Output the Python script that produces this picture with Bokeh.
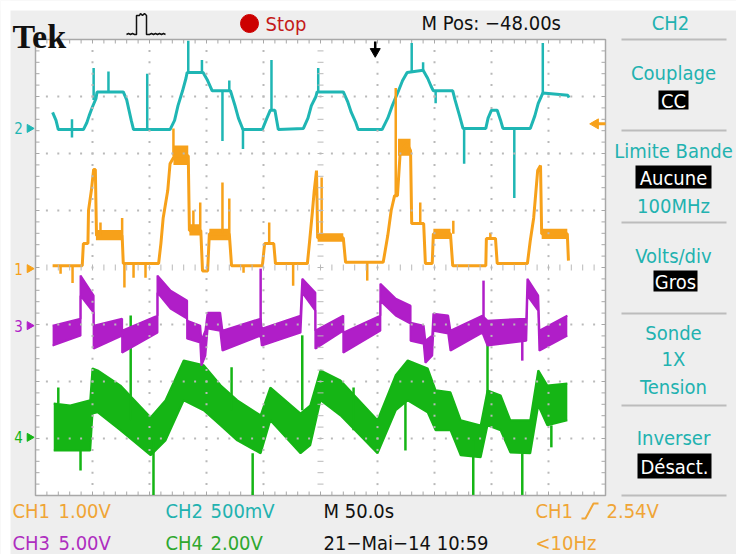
import numpy as np
from bokeh.plotting import figure
from bokeh.models import Range1d
from bokeh.core.properties import value
from bokeh.embed import file_html
from bokeh.resources import INLINE

# ---------------- scope settings ----------------
sec_per_div = 50.0
ch1_volts_per_div = 1.0
ch2_volts_per_div = 0.5
ch3_volts_per_div = 5.0
ch4_volts_per_div = 2.0
ch1_offset_div = -0.02
ch2_offset_div = 2.44
ch3_offset_div = -1.02
ch4_offset_div = -2.98
trigger_time_s = 298.0
trigger_level_v = 2.54

# ---------------- CH2 (cyan), volts vs seconds ----------------
ch2_t = [15, 18, 20, 42, 45, 47, 50, 53, 54, 77, 80, 82, 84, 86, 118, 122, 125, 129, 132, 133,
         147, 151, 155, 171, 175, 178, 182, 199, 203, 206, 210, 213, 235, 239, 242, 246, 247, 270, 274, 277,
         281, 283, 304, 309, 313, 318, 322, 326, 340, 344, 347, 349, 366, 368, 372, 375, 395, 397, 400, 405,
         408, 410, 434, 438, 441, 445, 467, 468]
ch2_v = [0.14, 0.07, -0.01, -0.01, 0.05, 0.11, 0.19, 0.26, 0.32, 0.32, 0.25, 0.16, 0.07, -0.01, -0.01, 0.07, 0.20, 0.33, 0.44, 0.49,
         0.49, 0.42, 0.33, 0.33, 0.20, 0.09, -0.01, -0.01, 0.09, 0.16, 0.16, -0.01, 0.0, 0.09, 0.20, 0.28, 0.32, 0.32, 0.23, 0.14,
         0.05, -0.01, -0.01, 0.09, 0.20, 0.32, 0.42, 0.49, 0.51, 0.44, 0.37, 0.33, 0.33, 0.25, 0.11, 0.0, 0.0, 0.09, 0.16, 0.16,
         0.07, 0.0, 0.0, 0.11, 0.22, 0.31, 0.29, 0.27]
ch2_spike_t = [32, 51, 64, 98, 134, 146, 164, 170, 182, 207, 248, 330, 340, 351, 376, 420, 445]
ch2_spike_lo = [-0.08, 0.25, 0.32, -0.01, 0.49, 0.49, -0.11, 0.33, -0.18, 0.16, 0.32, 0.49, 0.51, 0.22, -0.31, -0.61, 0.31]
ch2_spike_hi = [0.08, 0.53, 0.50, 0.48, 0.77, 0.60, 0.33, 0.42, 0.0, 0.60, 0.53, 0.75, 0.58, 0.33, 0.0, 0.0, 0.75]

# ---------------- CH1 (orange) ----------------
ch1_t = [15, 41, 42, 46, 46.5, 49, 51, 52.5, 53.5, 76, 77, 108, 110, 112, 116, 118, 122, 134, 135, 145,
         146.5, 151, 152.5, 170, 172, 199, 201, 209, 210.5, 238.5, 240.5, 243, 244.5, 246.5, 247.5, 270, 272, 305, 309, 312,
         315, 317.5, 320, 326, 329, 330, 340.5, 342, 348, 349, 364, 366, 395, 395.5, 403.5, 405, 431.5, 434, 437, 440.5,
         443, 444, 466.5, 467.5]
ch1_v = [0.05, 0.05, 0.44, 0.44, 1.02, 1.37, 1.74, 1.74, 0.58, 0.58, 0.09, 0.09, 0.44, 0.89, 1.37, 1.84, 1.98, 1.98, 0.67, 0.67,
         -0.04, -0.04, 0.61, 0.61, 0.05, 0.05, 0.44, 0.44, 0.09, 0.09, 0.49, 1.02, 1.37, 1.72, 0.54, 0.54, 0.11, 0.11, 0.58, 1.02,
         1.28, 1.28, 2.07, 2.19, 2.07, 0.79, 0.79, 0.09, 0.09, 0.61, 0.61, 0.05, 0.05, 0.53, 0.53, 0.09, 0.09, 0.49, 0.89, 1.72,
         1.81, 0.61, 0.61, 0.14]
ch1_spike_t = [22, 32.5, 57, 76, 78, 86, 96.5, 121, 138.5, 144.5, 164, 170, 182.5, 205, 226, 251, 291, 316, 337.5, 366.5, 399]
ch1_spike_lo = [-0.09, -0.25, 0.58, 0.58, -0.33, -0.16, -0.16, 1.98, 0.67, 0.67, 0.61, 0.61, -0.07, 0.44, -0.30, 0.54, -0.21, 1.28, 0.79, 0.61, 0.53]
ch1_spike_hi = [0.05, 0.05, 0.81, 0.89, 0.09, 0.09, 0.09, 2.46, 1.02, 1.16, 1.51, 1.23, 0.05, 0.81, 0.09, 1.60, 0.11, 3.17, 1.16, 0.84, 0.63]
# noisy plateaus of CH1 (start, end, low, high)
ch1_noise_t0 = [53, 121, 135, 152.5, 247.5, 318, 349, 444]
ch1_noise_t1 = [76, 134, 145, 170, 270, 329, 364, 466.5]
ch1_noise_lo = [0.50, 1.82, 0.58, 0.50, 0.47, 1.98, 0.52, 0.52]
ch1_noise_hi = [0.68, 2.16, 0.78, 0.70, 0.62, 2.28, 0.70, 0.70]

# ---------------- CH3 (magenta) noisy band ----------------
ch3_t = [15, 39.5, 39.5, 51, 51, 76, 76, 107, 107, 118.5, 133, 133, 144.5, 145.5, 149, 151, 162, 164, 197.5, 198.5,
         232.5, 234, 245.5, 245.5, 270, 270, 302.5, 302.5, 316, 329, 329, 340.5, 342, 348, 349, 362, 364, 392, 396.5, 430.5,
         431.5, 441, 442, 466.5]
ch3_hi = [0, 0.61, 4.39, 2.63, 0, 0.61, -0.44, 0.88, 4.39, 3.07, 2.19, 0.44, 0, -1.32, -0.44, 1.14, 1.14, -0.44, 0.61, -0.26,
          0.88, 4.12, 2.89, -0.44, 0.88, -0.61, 0.88, 3.68, 2.37, 1.75, 0.26, 0, -1.32, -0.88, 1.05, 0.88, -0.44, 0.88, 0.44, 0.61,
          4.12, 2.63, -0.44, 0.88]
ch3_lo = [-1.75, -0.88, 2.63, 1.14, -2.02, -0.88, -2.37, -0.61, 2.89, 1.49, 0.61, -1.14, -1.49, -3.51, -2.63, -0.26, -0.44, -2.19, -0.88, -1.75,
          -0.61, 2.89, 1.32, -2.02, -0.44, -2.37, -0.44, 2.19, 0.88, 0.18, -1.32, -1.58, -3.25, -2.63, -0.44, -0.70, -2.19, -0.61, -1.75, -1.32,
          2.63, 1.32, -2.19, -0.88]
ch3_spike_t = [197.5, 393, 427]
ch3_spike_lo = [-1.05, 0.44, -3.07]
ch3_spike_hi = [5.0, 3.95, -1.32]

# ---------------- CH4 (green) noisy band ----------------
ch4_t = [16, 30.5, 48, 50, 54.5, 74.5, 101, 114, 130, 147.5, 162.5, 177, 197.5, 206, 232.5, 241, 250, 267.5, 300, 316,
         326.5, 344, 351, 364, 373, 390.5, 396.5, 408, 416.5, 434, 441, 449, 466.5]
ch4_hi = [1.19, 1.12, 1.30, 2.42, 2.35, 1.82, 0.70, 1.30, 2.70, 2.53, 1.82, 1.30, 0.77, 1.75, 0.84, 1.12, 2.35, 2.00, 0.60, 2.18,
          2.70, 2.42, 1.65, 1.58, 0.60, 0.42, 1.65, 1.47, 0.60, 0.60, 2.35, 1.82, 1.89]
ch4_lo = [-0.46, -0.46, -0.46, 0.84, 0.88, 0.25, -0.63, -0.11, 1.30, 0.95, 0.42, -0.11, -0.56, 0.60, -0.56, -0.28, 1.30, 0.77, -0.56, 0.95,
          1.30, 0.88, 0.25, 0.25, -0.63, -0.70, 0.42, 0.25, -0.53, -0.56, 1.12, 0.42, 0.60]
ch4_spike_t = [20, 39.5, 83.5, 103.5, 172, 190.5, 234, 279, 324.5, 384, 396.5, 427, 452.5]
ch4_spike_lo = [1.19, -1.16, 0.60, -2.02, 0.95, -2.02, 0.95, 0.25, -0.46, -2.02, 1.30, -2.02, -0.35]
ch4_spike_hi = [1.75, -0.46, 4.28, -0.11, 2.46, -0.56, 3.58, 1.75, 1.30, -0.11, 3.75, -0.56, 0.42]

# ---------------- texts ----------------
top_status = ["Tek", "Stop", "M Pos: \u221248.00s", "CH2"]
menu_items = ["Couplage", "Limite Bande", "100MHz", "Volts/div", "Sonde", "1X", "Tension", "Inverser"]
menu_boxed = ["CC", "Aucune", "Gros", "D\u00e9sact."]
bottom_row1 = ["CH1", "1.00V", "CH2", "500mV", "M 50.0s", "CH1", "2.54V"]
bottom_row2 = ["CH3", "5.00V", "CH4", "2.00V", "21\u2212Mai\u221214 10:59", "<10Hz"]

# ---------------- colours ----------------
C1, C2, C3, C4 = "#f7a11a", "#1fb6b4", "#b01ec8", "#15b515"
T1, T2, T3, T4 = "#f0a536", "#22b2b0", "#ae2ec0", "#2fa82f"
GRAY = "#eeeeee"
UI = "'DejaVu Sans Condensed', 'Liberation Sans Narrow', sans-serif"

# ---------------- layout (canvas pixels = reference pixels) ----------------
W, H = 736, 554
PX = 57.0            # pixels per division
SCR_L, SCR_T = 35, 39
NX, NY = 10, 8
XMAX = NX * sec_per_div

x_start = -SCR_L / PX * sec_per_div
x_end = (W - SCR_L) / PX * sec_per_div
y_end = NY / 2 + SCR_T / PX
y_start = NY / 2 - (H - SCR_T) / PX


def X(px):
    return (px - SCR_L) / PX * sec_per_div


def Y(py):
    return NY / 2 - (py - SCR_T) / PX


p = figure(width=W, height=H, x_range=Range1d(x_start, x_end), y_range=Range1d(y_start, y_end),
           x_axis_type=None, y_axis_type=None, toolbar_location=None, output_backend="svg",
           min_border=0, background_fill_color=GRAY, border_fill_color=GRAY, outline_line_color=None)


def ch_range(vdiv, off):
    return Range1d((y_start - off) * vdiv, (y_end - off) * vdiv)


p.extra_y_ranges = {
    "ch1": ch_range(ch1_volts_per_div, ch1_offset_div),
    "ch2": ch_range(ch2_volts_per_div, ch2_offset_div),
    "ch3": ch_range(ch3_volts_per_div, ch3_offset_div),
    "ch4": ch_range(ch4_volts_per_div, ch4_offset_div),
}

# white page strips (top/left)
p.quad(left=x_start, right=X(10), bottom=y_start, top=y_end, color="white", line_color=None)
p.quad(left=x_start, right=x_end, bottom=Y(10), top=y_end, color="white", line_color=None)

# scope screen
p.quad(left=0, right=XMAX, bottom=-NY / 2, top=NY / 2, fill_color="white", line_color="#a8a8a8", line_width=1.5)

# ruler ticks on the border
tx = np.arange(0, XMAX + 0.01, sec_per_div / 5)
ty = np.arange(-NY / 2, NY / 2 + 0.01, 0.2)
tl = 4 / PX
p.segment(x0=tx, y0=NY / 2, x1=tx, y1=NY / 2 - tl, color="#a8a8a8", line_width=1)
p.segment(x0=tx, y0=-NY / 2, x1=tx, y1=-NY / 2 + tl, color="#a8a8a8", line_width=1)
p.segment(x0=0, y0=ty, x1=tl * sec_per_div, y1=ty, color="#a8a8a8", line_width=1)
p.segment(x0=XMAX, y0=ty, x1=XMAX - tl * sec_per_div, y1=ty, color="#a8a8a8", line_width=1)

# ---------------- traces ----------------
p.varea(x=ch4_t, y1=ch4_lo, y2=ch4_hi, y_range_name="ch4", fill_color=C4)
p.line(ch4_t, ch4_hi, y_range_name="ch4", color=C4, line_width=2)
p.line(ch4_t, ch4_lo, y_range_name="ch4", color=C4, line_width=2)
p.segment(x0=ch4_spike_t, y0=ch4_spike_lo, x1=ch4_spike_t, y1=ch4_spike_hi, y_range_name="ch4", color=C4, line_width=2.5)

p.varea(x=ch3_t, y1=ch3_lo, y2=ch3_hi, y_range_name="ch3", fill_color=C3)
p.line(ch3_t, ch3_hi, y_range_name="ch3", color=C3, line_width=2)
p.line(ch3_t, ch3_lo, y_range_name="ch3", color=C3, line_width=2)
p.segment(x0=ch3_spike_t, y0=ch3_spike_lo, x1=ch3_spike_t, y1=ch3_spike_hi, y_range_name="ch3", color=C3, line_width=2.5)

p.line(ch2_t, ch2_v, y_range_name="ch2", color=C2, line_width=3)
p.segment(x0=ch2_spike_t, y0=ch2_spike_lo, x1=ch2_spike_t, y1=ch2_spike_hi, y_range_name="ch2", color=C2, line_width=2.5)

p.quad(left=ch1_noise_t0, right=ch1_noise_t1, bottom=ch1_noise_lo, top=ch1_noise_hi, y_range_name="ch1",
       color=C1, line_color=None)
p.line(ch1_t, ch1_v, y_range_name="ch1", color=C1, line_width=3)
p.segment(x0=ch1_spike_t, y0=ch1_spike_lo, x1=ch1_spike_t, y1=ch1_spike_hi, y_range_name="ch1", color=C1, line_width=2.5)

# ---------------- graticule dots & centre ticks (drawn over traces) ----------------
gx = [i * sec_per_div for i in range(1, NX) if i != NX // 2]
gy = [j for j in range(-NY // 2 + 1, NY // 2) if j != 0]
dots_y = np.arange(-NY / 2 + 0.2, NY / 2 - 0.1, 0.2)
dots_x = np.arange(sec_per_div / 5, XMAX - 1, sec_per_div / 5)
dx = np.concatenate([np.full(len(dots_y), g) for g in gx] + [dots_x for _ in gy])
dy = np.concatenate([dots_y for _ in gx] + [np.full(len(dots_x), g) for g in gy])
p.scatter(dx, dy, marker="square", size=2, fill_color="#b9b9b9", line_color=None)
ct = 3 / PX
p.segment(x0=XMAX / 2 - ct * sec_per_div, y0=dots_y, x1=XMAX / 2 + ct * sec_per_div, y1=dots_y, color="#b9b9b9", line_width=1)
p.segment(x0=dots_x, y0=-ct, x1=dots_x, y1=ct, color="#b9b9b9", line_width=1)

# ---------------- markers ----------------
for name, col, lab in [("ch2", C2, "2"), ("ch1", C1, "1"), ("ch3", C3, "3"), ("ch4", C4, "4")]:
    p.text(x=[X(18)], y=[0], text=[lab], y_range_name=name, text_color=col, text_font=value(UI),
           text_font_size="15px", text_align="center", text_baseline="middle")
    p.scatter(x=[X(29)], y=[0], y_range_name=name, marker="triangle", angle=-np.pi / 2, size=8,
              fill_color=col, line_color=col)

# trigger level arrow (right side, CH1)
p.segment(x0=[X(596)], y0=[trigger_level_v], x1=[X(605)], y1=[trigger_level_v], y_range_name="ch1", color=C1, line_width=3)
p.scatter(x=[X(595)], y=[trigger_level_v], y_range_name="ch1", marker="triangle", angle=np.pi / 2, size=10,
          fill_color=C1, line_color=C1)
# trigger position arrow (top)
p.segment(x0=[trigger_time_s], y0=[Y(41)], x1=[trigger_time_s], y1=[Y(50)], color="black", line_width=2.5)
p.scatter(x=[trigger_time_s], y=[Y(51)], marker="triangle", angle=np.pi, size=10, fill_color="black", line_color="black")


def txt(px, py, s, color, size, align="left", font=UI, style="normal", baseline="middle"):
    p.text(x=[X(px)], y=[Y(py)], text=[s], text_color=color, text_font=value(font), text_font_size=f"{size}px",
           text_align=align, text_baseline=baseline, text_font_style=style)


# top bar
txt(12, 36, top_status[0], "#111111", 34, font="Liberation Serif", style="bold", baseline="alphabetic")
icon_x = [126, 128, 130, 132, 134, 136, 136, 139, 140, 142, 144, 146, 146, 149, 151, 153, 155, 157, 159, 161, 163, 165]
icon_y = [34, 33, 34, 33, 34, 34, 15, 15, 13, 15, 13, 15, 34, 34, 33, 34, 33, 34, 33, 34, 33, 34]
p.line([X(v) for v in icon_x], [Y(v) for v in icon_y], color="#111111", line_width=1.5)
p.scatter(x=[X(249)], y=[Y(23)], marker="circle", size=18, fill_color="#cc0000", line_color="#cc0000")
txt(265, 23, top_status[1], "#c41a1a", 20)
txt(421, 22, top_status[2], "#111111", 20)
txt(670, 22, top_status[3], T2, 20, align="center")

# right menu
for ly in [39, 130, 222, 313, 405, 495]:
    p.segment(x0=[X(621)], y0=[Y(ly)], x1=[X(726)], y1=[Y(ly)], color="#bcbcbc", line_width=2)
MX = 673
for s, yy in zip(menu_items, [72, 150, 205, 255, 332, 358, 386, 437]):
    txt(MX, yy, s, T2, 20, align="center")
for s, (bx0, by0, bx1, by1) in zip(menu_boxed, [(658, 90, 688, 109), (635, 165, 711, 188),
                                               (653, 270, 697, 291), (637, 453, 711, 478)]):
    p.quad(left=X(bx0), right=X(bx1), top=Y(by0), bottom=Y(by1), color="black", line_color=None)
    txt((bx0 + bx1) / 2, (by0 + by1) / 2 + 0.5, s, "white", 20, align="center")

# bottom bar
r1, r2 = 510, 542
txt(12, r1, bottom_row1[0], T1, 20)
txt(58, r1, bottom_row1[1], T1, 20)
txt(165, r1, bottom_row1[2], T2, 20)
txt(210, r1, bottom_row1[3], T2, 20)
txt(323, r1, bottom_row1[4], "#111111", 20)
txt(535, r1, bottom_row1[5], T1, 20)
edge_x = [581, 585, 593, 598]
edge_y = [518, 518, 503, 503]
p.line([X(v) for v in edge_x], [Y(v) for v in edge_y], color=T1, line_width=2)
txt(606, r1, bottom_row1[6], T1, 20)
txt(12, r2, bottom_row2[0], T3, 20)
txt(58, r2, bottom_row2[1], T3, 20)
txt(165, r2, bottom_row2[2], T4, 20)
txt(210, r2, bottom_row2[3], T4, 20)
txt(323, r2, bottom_row2[4], "#111111", 20)
txt(535, r2, bottom_row2[5], T1, 20)

open("out.html", "w").write(file_html(p, INLINE))
